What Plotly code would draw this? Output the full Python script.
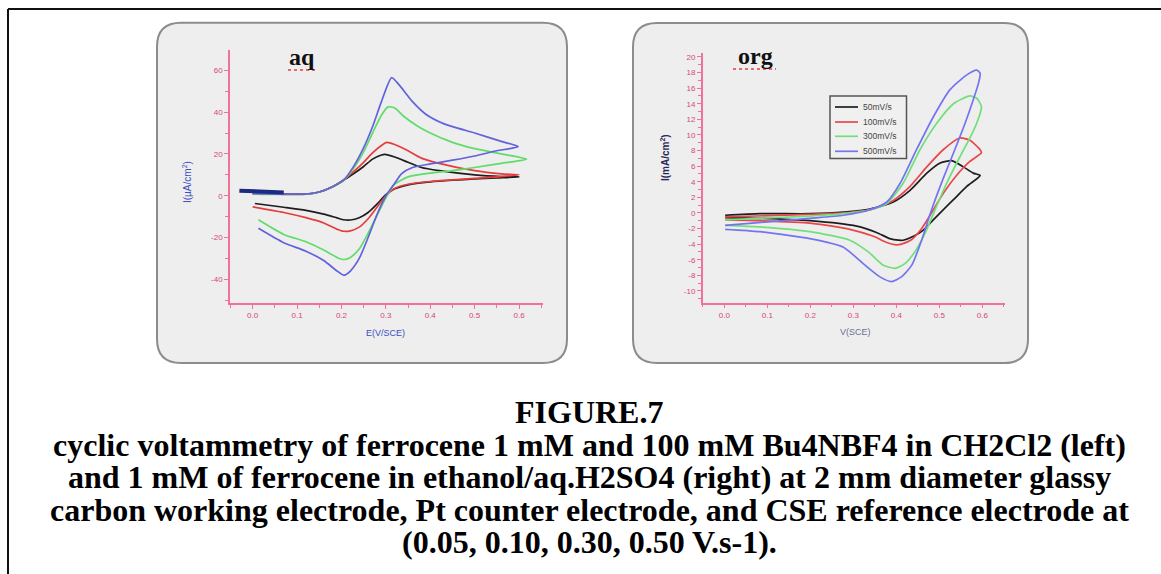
import plotly.graph_objects as go

W, H = 1161, 574

# ---------------- data: left panel "aq" ----------------
aq_e_50 = [0.00, 0.06, 0.12, 0.15, 0.18, 0.205, 0.227, 0.25, 0.27, 0.29, 0.298, 0.32, 0.35, 0.38, 0.42, 0.50, 0.56, 0.60,
           0.55, 0.50, 0.45, 0.40, 0.35, 0.32, 0.30, 0.28, 0.26, 0.24, 0.22, 0.205, 0.19, 0.16, 0.12, 0.07, 0.005]
aq_i_50 = [1.0, 0.8, 0.8, 1.8, 4.3, 7.5, 10.5, 14.0, 17.5, 19.5, 19.8, 18.5, 16.0, 13.5, 12.0, 10.0, 9.2, 9.0,
           8.5, 8.0, 7.4, 6.6, 5.2, 3.3, 0.5, -4.0, -8.0, -10.5, -11.6, -11.5, -10.6, -8.8, -7.0, -5.5, -3.7]
aq_e_100 = [0.00, 0.06, 0.12, 0.15, 0.18, 0.205, 0.227, 0.25, 0.27, 0.29, 0.302, 0.32, 0.35, 0.38, 0.42, 0.50, 0.56, 0.60,
            0.55, 0.50, 0.45, 0.40, 0.35, 0.32, 0.30, 0.28, 0.26, 0.24, 0.22, 0.205, 0.19, 0.16, 0.12, 0.07, 0.00]
aq_i_100 = [0.9, 0.7, 0.7, 1.8, 4.3, 7.5, 11.5, 16.0, 20.5, 24.0, 25.5, 24.5, 21.5, 18.0, 15.5, 12.0, 10.5, 10.0,
            9.0, 8.3, 7.6, 6.8, 5.5, 3.5, 0.0, -5.5, -11.0, -15.0, -16.8, -17.0, -16.0, -13.0, -10.5, -8.0, -5.3]
aq_e_300 = [0.00, 0.06, 0.12, 0.15, 0.18, 0.205, 0.227, 0.25, 0.27, 0.29, 0.305, 0.32, 0.34, 0.37, 0.40, 0.45, 0.50, 0.56, 0.617,
            0.56, 0.50, 0.45, 0.40, 0.35, 0.32, 0.30, 0.28, 0.26, 0.24, 0.22, 0.205, 0.19, 0.16, 0.12, 0.07, 0.013]
aq_i_300 = [0.8, 0.6, 0.7, 1.8, 4.3, 7.5, 13.0, 21.0, 30.0, 38.5, 42.5, 42.0, 38.0, 33.5, 30.0, 25.5, 22.5, 20.0, 17.5,
            15.5, 13.5, 12.0, 10.8, 9.0, 5.5, -1.0, -9.5, -18.0, -25.5, -29.5, -30.5, -29.5, -26.0, -22.0, -18.5, -11.5]
aq_e_500 = [0.00, 0.06, 0.12, 0.15, 0.18, 0.205, 0.227, 0.25, 0.27, 0.29, 0.313, 0.33, 0.36, 0.39, 0.43, 0.50, 0.56, 0.598,
            0.55, 0.50, 0.45, 0.40, 0.36, 0.335, 0.32, 0.30, 0.28, 0.26, 0.24, 0.22, 0.205, 0.19, 0.16, 0.12, 0.07, 0.013]
aq_i_500 = [1.0, 0.8, 0.8, 1.8, 4.3, 7.5, 13.9, 23.0, 33.0, 45.0, 56.5, 53.0, 45.0, 39.0, 34.5, 30.0, 26.0, 23.5,
            21.5, 19.0, 17.0, 15.2, 13.5, 10.5, 6.0, 0.0, -9.0, -20.0, -30.0, -36.0, -38.0, -36.0, -31.0, -26.5, -22.5, -15.6]
aq_e_start = [-0.03, 0.0, 0.04, 0.07]
aq_i_start = [2.4, 2.3, 2.0, 1.6]

# ---------------- data: right panel "org" ----------------
org_e_50 = [0.002, 0.083, 0.199, 0.277, 0.339, 0.393, 0.432, 0.471, 0.502, 0.529, 0.556, 0.579, 0.595,
            0.564, 0.533, 0.509, 0.486, 0.463, 0.440, 0.416, 0.405, 0.385, 0.354, 0.308, 0.199, 0.083, 0.002]
org_i_50 = [-0.3, -0.1, -0.1, 0.1, 0.5, 1.4, 2.9, 5.1, 6.4, 6.7, 5.9, 5.1, 4.8,
            3.4, 1.7, 0.4, -0.9, -2.2, -3.0, -3.5, -3.5, -3.3, -2.5, -1.7, -1.0, -0.7, -0.6]
org_e_100 = [0.002, 0.199, 0.277, 0.339, 0.393, 0.432, 0.471, 0.509, 0.548, 0.571, 0.595, 0.598,
             0.571, 0.540, 0.509, 0.482, 0.459, 0.436, 0.412, 0.401, 0.378, 0.347, 0.292, 0.199, 0.083, 0.002]
org_i_100 = [-0.5, -0.2, 0.0, 0.4, 1.6, 3.4, 5.9, 8.1, 9.6, 9.3, 8.1, 7.7,
             6.6, 4.8, 2.5, 0.0, -2.0, -3.4, -4.0, -4.1, -3.8, -3.0, -2.1, -1.3, -1.0, -0.9]
org_e_300 = [0.002, 0.199, 0.277, 0.339, 0.378, 0.416, 0.455, 0.494, 0.533, 0.571, 0.587, 0.598,
             0.587, 0.571, 0.548, 0.517, 0.490, 0.467, 0.443, 0.420, 0.397, 0.370, 0.335, 0.292, 0.199, 0.083, 0.002]
org_i_300 = [-0.9, -0.4, -0.1, 0.4, 1.2, 3.8, 8.1, 11.5, 14.0, 15.0, 14.7, 13.6,
             11.5, 9.6, 7.2, 3.8, 0.4, -2.6, -5.0, -6.5, -7.1, -6.7, -5.0, -3.5, -2.4, -1.8, -1.6]
org_e_500 = [0.002, 0.199, 0.277, 0.339, 0.378, 0.409, 0.447, 0.486, 0.525, 0.564, 0.587, 0.595,
             0.591, 0.579, 0.560, 0.536, 0.509, 0.482, 0.459, 0.436, 0.412, 0.389, 0.362, 0.323, 0.277, 0.199, 0.083, 0.002]
org_i_500 = [-1.6, -0.7, -0.3, 0.4, 1.4, 3.8, 8.1, 12.3, 15.8, 17.7, 18.3, 17.9,
             16.6, 14.5, 11.5, 8.1, 4.4, 0.4, -3.5, -6.7, -8.2, -8.8, -8.2, -6.5, -4.4, -3.3, -2.4, -2.1]

legend_names = ["50mV/s", "100mV/s", "300mV/s", "500mV/s"]
x_ticks = [0.0, 0.1, 0.2, 0.3, 0.4, 0.5, 0.6]
x_labels = ["0.0", "0.1", "0.2", "0.3", "0.4", "0.5", "0.6"]
aq_y_ticks = [-40, -20, 0, 20, 40, 60]
org_y_ticks = list(range(-10, 21, 2))

caption_lines = [
    "FIGURE.7",
    "cyclic voltammetry of ferrocene 1 mM and 100 mM Bu4NBF4 in CH2Cl2 (left)",
    "and 1 mM of ferrocene in ethanol/aq.H2SO4 (right) at 2 mm diameter glassy",
    "carbon working electrode, Pt counter electrode, and CSE reference electrode at",
    "(0.05, 0.10, 0.30, 0.50 V.s-1).",
]

# ---------------- styling ----------------
aq_colors = ["#1e1e1e", "#e63c3c", "#5fdc6a", "#6262dc"]
org_colors = ["#1e1e1e", "#e8474a", "#6fe07a", "#7474ee"]
axis_col = "#f0719a"
tick_col = "#d8457c"


def px(x):
    return x / W


def py(y):
    return 1 - y / H


fig = go.Figure()

aq_series = [(aq_e_50, aq_i_50), (aq_e_100, aq_i_100), (aq_e_300, aq_i_300), (aq_e_500, aq_i_500)]
for (e, i), c in zip(aq_series, aq_colors):
    fig.add_trace(go.Scatter(x=e, y=i, mode="lines", line=dict(color=c, width=1.7, shape="spline", smoothing=0.6),
                             showlegend=False, xaxis="x", yaxis="y", hoverinfo="skip"))
fig.add_trace(go.Scatter(x=aq_e_start, y=aq_i_start, mode="lines", line=dict(color="#1c2a80", width=4),
                         showlegend=False, xaxis="x", yaxis="y", hoverinfo="skip"))

org_series = [(org_e_50, org_i_50), (org_e_100, org_i_100), (org_e_300, org_i_300), (org_e_500, org_i_500)]
for (e, i), c, n in zip(org_series, org_colors, legend_names):
    fig.add_trace(go.Scatter(x=e, y=i, mode="lines", name=n, showlegend=False,
                             line=dict(color=c, width=1.7, shape="spline", smoothing=0.6),
                             xaxis="x2", yaxis="y2", hoverinfo="skip"))

axis_common = dict(showgrid=False, zeroline=False, showline=True, linecolor=axis_col, linewidth=1.5,
                   ticks="outside", ticklen=4, tickcolor=axis_col, tickwidth=1,
                   tickfont=dict(family="Liberation Sans", size=8, color=tick_col))

fig.update_layout(
    width=W, height=H, autosize=False,
    margin=dict(l=0, r=0, t=0, b=0),
    paper_bgcolor="white", plot_bgcolor="rgba(0,0,0,0)",
    showlegend=False,
    xaxis=dict(domain=[px(230), px(543)], range=[-0.0511, 0.654], anchor="y",
               tickvals=x_ticks, ticktext=x_labels,
               minor=dict(dtick=0.05, tick0=0, ticks="outside", ticklen=3, tickcolor=axis_col), **axis_common),
    yaxis=dict(domain=[py(303), py(50)], range=[-51.3, 69.7], anchor="x",
               tickvals=aq_y_ticks, ticktext=[str(v) for v in aq_y_ticks],
               minor=dict(dtick=10, tick0=0, ticks="outside", ticklen=3, tickcolor=axis_col), **axis_common),
    xaxis2=dict(domain=[px(702.7), px(1005)], range=[-0.0502, 0.6528], anchor="y2",
                tickvals=x_ticks, ticktext=x_labels,
                minor=dict(dtick=0.05, tick0=0, ticks="outside", ticklen=3, tickcolor=axis_col), **axis_common),
    yaxis2=dict(domain=[py(302.7), py(53)], range=[-11.51, 20.5], anchor="x2",
                tickvals=org_y_ticks, ticktext=[str(v) for v in org_y_ticks],
                minor=dict(dtick=1, tick0=0, ticks="outside", ticklen=3, tickcolor=axis_col), **axis_common),
)


# rounded panel backgrounds
def rounded(x0, y0, x1, y1, r):
    rx, ry = r / W, r / H
    X0, X1 = px(x0), px(x1)
    Y0, Y1 = py(y0), py(y1)  # Y0 top, Y1 bottom (Y0 > Y1)
    return (f"M {X0+rx},{Y0} L {X1-rx},{Y0} Q {X1},{Y0} {X1},{Y0-ry} "
            f"L {X1},{Y1+ry} Q {X1},{Y1} {X1-rx},{Y1} L {X0+rx},{Y1} "
            f"Q {X0},{Y1} {X0},{Y1+ry} L {X0},{Y0-ry} Q {X0},{Y0} {X0+rx},{Y0} Z")


shapes = []
for box in [(157, 22.7, 567, 363), (633, 23, 1028, 363)]:
    shapes.append(dict(type="path", xref="paper", yref="paper", path=rounded(*box, 24),
                       fillcolor="#eeeeee", line=dict(color="#8c8c8c", width=2), layer="below"))
# outer frame (top and left edges)
shapes.append(dict(type="line", xref="paper", yref="paper", x0=px(8), y0=py(9), x1=1, y1=py(9),
                   line=dict(color="#111111", width=2)))
shapes.append(dict(type="line", xref="paper", yref="paper", x0=px(8), y0=py(9), x1=px(8), y1=0,
                   line=dict(color="#111111", width=2)))
# spell-check squiggles under panel labels
shapes.append(dict(type="line", xref="paper", yref="paper", x0=px(288), y0=py(70), x1=px(316), y1=py(70),
                   line=dict(color="#e04040", width=1.5, dash="dot")))
shapes.append(dict(type="line", xref="paper", yref="paper", x0=px(733), y0=py(69), x1=px(776), y1=py(69),
                   line=dict(color="#e04040", width=1.5, dash="dot")))

# legend of the right panel (drawn manually to match the compact box)
leg_box = (830, 96, 906.5, 158.5)
shapes.append(dict(type="rect", xref="paper", yref="paper", x0=px(leg_box[0]), y0=py(leg_box[1]),
                   x1=px(leg_box[2]), y1=py(leg_box[3]), fillcolor="#f0f0f0",
                   line=dict(color="#555555", width=1.5)))
leg_rows = [107, 122, 136.3, 151.3]
for yy, c in zip(leg_rows, org_colors):
    shapes.append(dict(type="line", xref="paper", yref="paper", x0=px(835), y0=py(yy), x1=px(858), y1=py(yy),
                       line=dict(color=c, width=1.7)))
fig.update_layout(shapes=shapes)

ann = []
for yy, n in zip(leg_rows, legend_names):
    ann.append(dict(text=n, x=px(861), y=py(yy), xref="paper", yref="paper", showarrow=False,
                    xanchor="left", yanchor="middle",
                    font=dict(family="Liberation Sans", size=8.5, color="#444444")))

ann.append(dict(text="<b>aq</b>", x=px(302), y=py(57), xref="paper", yref="paper", showarrow=False,
                xanchor="center", yanchor="middle",
                font=dict(family="Liberation Serif", size=24, color="#111111")))
ann.append(dict(text="<b>org</b>", x=px(755), y=py(56), xref="paper", yref="paper", showarrow=False,
                xanchor="center", yanchor="middle",
                font=dict(family="Liberation Serif", size=24, color="#111111")))
ann.append(dict(text="I(µA/cm<sup>2</sup>)", x=px(187), y=py(182), xref="paper", yref="paper", showarrow=False,
                xanchor="center", yanchor="middle", textangle=-90,
                font=dict(family="Liberation Sans", size=10, color="#3a4fc0")))
ann.append(dict(text="E(V/SCE)", x=px(385), y=py(333), xref="paper", yref="paper", showarrow=False,
                xanchor="center", yanchor="middle",
                font=dict(family="Liberation Sans", size=9, color="#3a4fc0")))
ann.append(dict(text="<b>I(mA/cm<sup>2</sup>)</b>", x=px(665), y=py(158), xref="paper", yref="paper", showarrow=False,
                xanchor="center", yanchor="middle", textangle=-90,
                font=dict(family="Liberation Sans", size=10, color="#2a2a5a")))
ann.append(dict(text="V(SCE)", x=px(855), y=py(332), xref="paper", yref="paper", showarrow=False,
                xanchor="center", yanchor="middle",
                font=dict(family="Liberation Sans", size=9, color="#6a7090")))

cap_y = [412, 444.5, 477, 509.5, 542]
for t, yy in zip(caption_lines, cap_y):
    ann.append(dict(text=f"<b>{t}</b>", x=px(589), y=py(yy), xref="paper", yref="paper", showarrow=False,
                    xanchor="center", yanchor="middle",
                    font=dict(family="Liberation Serif", size=32, color="#000000")))
fig.update_layout(annotations=ann)

fig.write_html("out.html")
